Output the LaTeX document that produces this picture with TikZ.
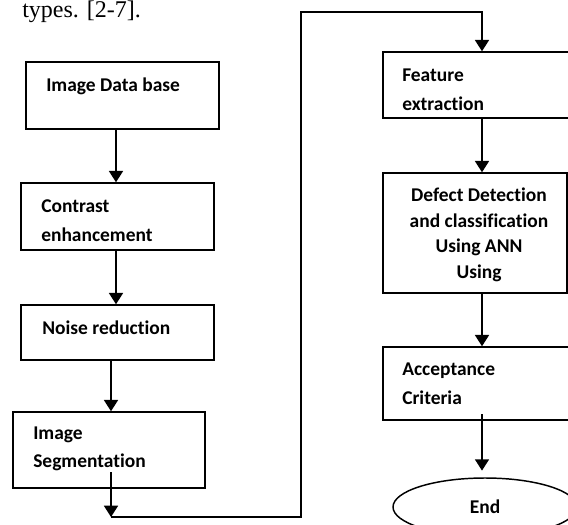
\documentclass[tikz,border=0pt]{standalone}
\usepackage{fontspec}
\setmainfont{Carlito}[Ligatures=NoCommon]
\newfontfamily\captserif{Liberation Serif}
\usetikzlibrary{arrows.meta,shapes.geometric}
\begin{document}
\begin{tikzpicture}[x=0.75pt,y=-0.75pt,
  box/.style={draw,line width=1.1pt,rectangle,inner sep=0pt},
  lbl/.style={anchor=west,align=left,inner sep=0pt,font=\fontsize{14.6pt}{21.4pt}\bfseries\selectfont},
  arr/.style={line width=1.3pt,-{Triangle[width=10.5pt,length=8.5pt]}},
  conn/.style={line width=1.3pt}]
\useasboundingbox (0,0) rectangle (568,525);
\clip (0,0) rectangle (568,525);
\node[anchor=base west,inner sep=0pt,font=\captserif\fontsize{18pt}{20pt}\selectfont] (cap) at (22,17) {types. [2-7].};
% left column
\node[box,minimum width=144.75pt,minimum height=50.25pt] (db) at (122.5,95.5) {};
\node[lbl] (dbt) at (46,86) {Image Data base};
\node[box,minimum width=144.75pt,minimum height=50.25pt] (ce) at (117.5,216.5) {};
\node[lbl] (cet) at (41,220.5) {Contrast\\enhancement};
\node[box,minimum width=144.75pt,minimum height=41.25pt] (nr) at (117.5,332.5) {};
\node[lbl] (nrt) at (42,328) {Noise reduction};
\node[box,minimum width=144pt,minimum height=57pt] (seg) at (109,450) {};
\node[lbl] (segt) at (33,449) {Image\\Segmentation};
% right column
\node[box,minimum width=140.25pt,minimum height=49.5pt] (fe) at (476.5,85) {};
\node[lbl] (fet) at (402,90) {Feature\\extraction};
\node[box,minimum width=138pt,minimum height=90pt] (dd) at (475,233) {};
\node[lbl,anchor=center,align=center,font=\fontsize{14.6pt}{19.2pt}\bfseries\selectfont] (ddt) at (479,235) {Defect Detection\\and classification\\Using ANN\\Using};
\node[box,minimum width=140.25pt,minimum height=54.75pt] (ac) at (476.5,383.5) {};
\node[lbl] (act) at (402,383.5) {Acceptance\\Criteria};
\node[draw,line width=1.1pt,ellipse,minimum width=138pt,minimum height=43.5pt,inner sep=0pt] (end) at (485,507) {};
\node[lbl,anchor=center] (endt) at (485,507) {End};
% connector coordinates
\coordinate (c1) at (116,0);
\coordinate (segin) at (111,472);
\coordinate (j1) at (111,517);
\coordinate (j2) at (301,517);
\coordinate (j3) at (301,12);
\coordinate (j4) at (482,12);
\coordinate (acin) at (482,414);
% connectors
\draw[arr] (db.south -| c1) -- (ce.north -| c1);
\draw[arr] (ce.south -| c1) -- (nr.north -| c1);
\draw[arr] (nr.south -| segin) -- (seg.north -| segin);
\draw[arr] (segin) -- (j1);
\draw[arr] (j1) -- (j2) -- (j3) -- (j4) -- (fe.north -| j4);
\draw[arr] (fe.south -| j4) -- (dd.north -| j4);
\draw[arr] (dd.south -| j4) -- (ac.north -| j4);
\draw[arr,shorten >=5pt] (acin) -- (end.north -| acin);
\end{tikzpicture}
\end{document}
